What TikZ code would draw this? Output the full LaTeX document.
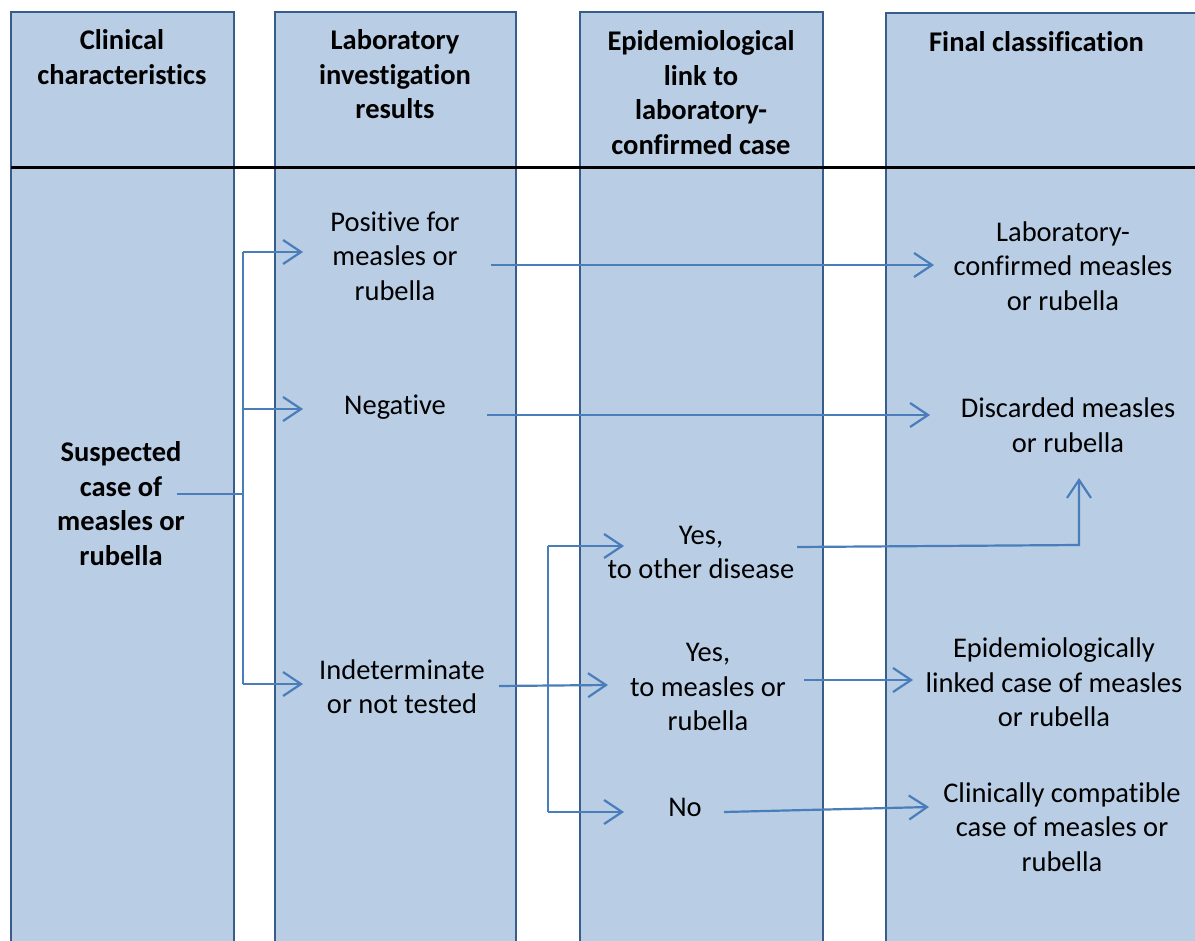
\documentclass[tikz,border=0pt]{standalone}
\usepackage{fontspec}
\setmainfont{Carlito}[Ligatures=NoCommon]
\usetikzlibrary{arrows.meta}
\definecolor{colfill}{HTML}{B9CDE5}
\definecolor{colline}{HTML}{385D8A}
\definecolor{arrcol}{HTML}{4A7EBB}
\begin{document}
\begin{tikzpicture}[x=1pt,y=-1pt,
  colbox/.style={fill=colfill,draw=colline,line width=1.5pt},
  txt/.style={inner sep=0pt,align=center,font=\fontsize{28.5}{34.5}\selectfont,
    execute at begin node=\strut,execute at end node=\strut},
  hdr/.style={txt,font=\fontsize{28.5}{34.5}\selectfont\bfseries},
  conn/.style={draw=arrcol,line width=2.2pt},
  arr/.style={conn,-{Straight Barb[length=18pt,width=24pt]}}]
\useasboundingbox (0,0) rectangle (1195,941);
\clip (0,0) rectangle (1195,941);
% columns
\draw[colbox] (11,12) rectangle (234,960);
\draw[colbox] (275,12) rectangle (516,960);
\draw[colbox] (580,12) rectangle (823,960);
\draw[colbox] (886,13) rectangle (1215,960);
% header separator
\draw[line width=3pt,black] (11,168) -- (1200,168);
% headers
\node[hdr] (h1) at (122,62) {Clinical\\characteristics};
\node[hdr] (h2) at (395,79.5) {Laboratory\\investigation\\results};
\node[hdr] (h3) at (701,97.5) {Epidemiological\\link to\\laboratory-\\confirmed case};
\node[hdr] (h4) at (1036.5,45) {Final classification};
% body texts
\node[hdr] (susp) at (121,508.5) {Suspected\\case of\\measles or\\rubella};
\node[txt] (pos) at (395,261) {Positive for\\measles or\\rubella};
\node[txt] (neg) at (395,408) {Negative};
\node[txt] (ind) at (402,692) {Indeterminate\\or not tested};
\node[txt] (yo) at (701,557.5) {Yes,\\to other disease};
\node[txt] (ym) at (708,692.5) {Yes,\\to measles or\\rubella};
\node[txt] (no) at (685,810) {No};
\node[txt] (lc) at (1063,271) {Laboratory-\\confirmed measles\\or rubella};
\node[txt] (dc) at (1068,430.5) {Discarded measles\\or rubella};
\node[txt] (el) at (1054,687.5) {Epidemiologically\\linked case of measles\\or rubella};
\node[txt] (cc) at (1062,832) {Clinically compatible\\case of measles or\\rubella};
% connector coordinates
\coordinate (s0) at (177,494);
\coordinate (t1) at (243,494);
\coordinate (ta) at (243,252);
\coordinate (tb) at (243,409);
\coordinate (tc) at (243,684);
\coordinate (pa) at (303,252);
\coordinate (pb) at (303,409);
\coordinate (pc) at (303,684);
\coordinate (p1) at (491,265);
\coordinate (q1) at (934,265);
\coordinate (p2) at (487,415);
\coordinate (q2) at (930,415);
\coordinate (p3) at (499,686);
\coordinate (q3) at (608,685);
\coordinate (ua) at (548,546);
\coordinate (ub) at (548,812);
\coordinate (va) at (624,546);
\coordinate (vb) at (624,812);
\coordinate (p4) at (797,547);
\coordinate (k4) at (1079,545);
\coordinate (q4) at (1079,478);
\coordinate (p5) at (804,680);
\coordinate (q5) at (913,680);
\coordinate (p6) at (724,812);
\coordinate (q6) at (929,807);
% connectors
\draw[conn] (s0) -- (t1);
\draw[conn] (ta) -- (tc);
\draw[arr] (ta) -- (pa);
\draw[arr] (tb) -- (pb);
\draw[arr] (tc) -- (pc);
\draw[arr] (p1) -- (q1);
\draw[arr] (p2) -- (q2);
\draw[arr] (p3) -- (q3);
\draw[conn] (ua) -- (ub);
\draw[arr] (ua) -- (va);
\draw[arr] (ub) -- (vb);
\draw[arr] (p4) -- (k4) -- (q4);
\draw[arr] (p5) -- (q5);
\draw[arr] (p6) -- (q6);
\end{tikzpicture}
\end{document}
